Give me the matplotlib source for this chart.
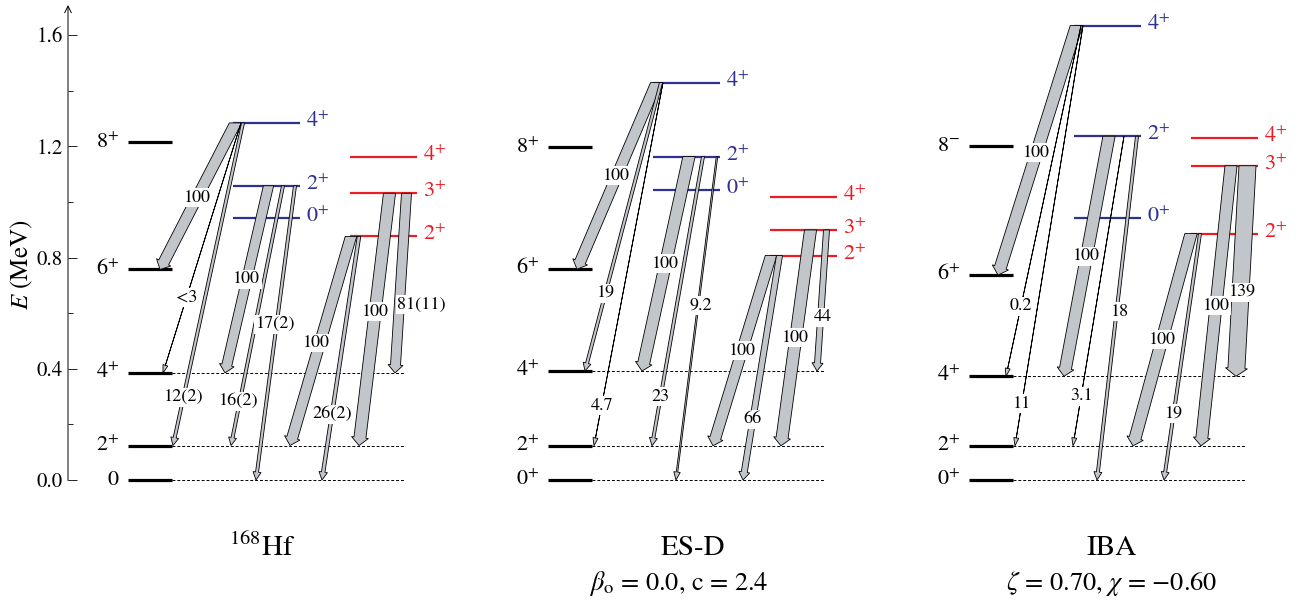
import numpy as np
import matplotlib
matplotlib.use("Agg")
import matplotlib.pyplot as plt
from matplotlib.patches import Polygon
from matplotlib.ticker import FixedLocator, FormatStrFormatter

plt.rcParams["font.family"] = ["STIXGeneral", "DejaVu Serif"]
plt.rcParams["mathtext.fontset"] = "stix"

# ---- level energies (MeV) ----
panel_names = [r"$^{168}$Hf", "ES-D", "IBA"]
panel_params = ["", r"$\beta_{\rm o}$ = 0.0, c = 2.4", r"$\zeta$ = 0.70, $\chi$ = $-$0.60"]

ground_spins = ["0", "2", "4", "6", "8"]
ground_hf = [0.0, 0.124, 0.385, 0.757, 1.214]
ground_esd = [0.0, 0.123, 0.392, 0.758, 1.196]
ground_iba = [0.0, 0.123, 0.373, 0.737, 1.201]
ground_labels_hf = ["0", r"$2^{+}$", r"$4^{+}$", r"$6^{+}$", r"$8^{+}$"]
ground_labels_esd = [r"$0^{+}$", r"$2^{+}$", r"$4^{+}$", r"$6^{+}$", r"$8^{+}$"]
ground_labels_iba = [r"$0^{+}$", r"$2^{+}$", r"$4^{+}$", r"$6^{+}$", r"$8^{-}$"]

# second 0+ band (0, 2, 4)
beta_spins = ["0", "2", "4"]
beta_hf = [0.941, 1.058, 1.284]
beta_esd = [1.043, 1.163, 1.429]
beta_iba = [0.941, 1.236, 1.634]

# gamma band (2, 3, 4)
gamma_spins = ["2", "3", "4"]
gamma_hf = [0.876, 1.031, 1.161]
gamma_esd = [0.807, 0.899, 1.018]
gamma_iba = [0.886, 1.130, 1.230]

# transitions: (band, initial spin, final ground-band spin)
transitions = [("b", "4", "6"), ("b", "4", "4"), ("b", "4", "2"),
               ("b", "2", "4"), ("b", "2", "2"), ("b", "2", "0"),
               ("g", "2", "2"), ("g", "2", "0"),
               ("g", "3", "2"), ("g", "3", "4")]
bE2_hf = ["100", "<3", "12(2)", "100", "16(2)", "17(2)", "100", "26(2)", "100", "81(11)"]
bE2_esd = ["100", "19", "4.7", "100", "23", "9.2", "100", "66", "100", "44"]
bE2_iba = ["100", "0.2", "11", "100", "3.1", "18", "100", "19", "100", "139"]

# ---- drawing layout (pixels along x) ----
K = 278.1          # px per MeV
offsets = [0, 420, 841]
# per arrow: top x, tip x, shaft width, label position along arrow, label dx
arrow_layout = [
    [(235.5, 160, 11, 0.51, 0), (241, 163, 0, 0.70, 0), (243, 173, 3, 0.85, 0),
     (268.5, 225, 10, 0.50, 0), (283, 231, 3, 0.83, -1), (295, 256, 3, 0.47, -1),
     (351, 290, 11, 0.51, -3), (359, 322, 3.5, 0.73, 0), (389.5, 359, 12, 0.47, 0),
     (406.5, 395, 10, 0.62, 22)],
    [(656.5, 577, 11, 0.50, 0), (661, 585, 3, 0.73, 0), (663, 594, 0, 0.89, 0),
     (689, 642, 12, 0.50, 0), (703, 652, 3, 0.83, 0), (717, 676, 1.5, 0.46, 3),
     (771, 713, 11, 0.50, 0), (779.5, 743, 6, 0.73, 0), (810.5, 781, 12, 0.50, 0),
     (826.5, 817, 6, 0.62, 2)],
    [(1076.5, 998, 12, 0.51, 0), (1081, 1006, 0, 0.80, 0), (1083, 1015, 0, 0.90, 0),
     (1109, 1064, 12, 0.50, 0), (1124, 1073, 0, 0.84, 0), (1137, 1097, 3, 0.51, 3),
     (1191, 1133, 12, 0.50, 0), (1200, 1164, 3, 0.73, 0), (1231, 1201, 12, 0.50, 0),
     (1247.5, 1236, 17, 0.60, 2)],
]

BLUE = "#2e3192"
RED = "#ed1c24"
GREY = "#c2c6cb"


def gamma_arrow(ax, x0, e0, x1, e1, w):
    # wide arrow whose top edge sits on the initial level
    y0, y1 = e0 * K, e1 * K
    d = np.array([x1 - x0, y1 - y0])
    u = d / np.hypot(*d)
    n = np.array([-u[1], u[0]])
    hl, hw = 8.0, w + 5.0
    p0 = np.array([x0, y0])
    tip = np.array([x1, y1])

    def on_level(side):
        p = p0 + side * n * w / 2
        return p + (y0 - p[1]) / u[1] * u

    base = tip - u * hl
    pts = np.array([on_level(-1), base - n * w / 2, base - n * hw / 2, tip,
                    base + n * hw / 2, base + n * w / 2, on_level(1)])
    pts[:, 1] /= K
    ax.add_patch(Polygon(pts, closed=True, fc=GREY, ec="black", lw=0.6, zorder=4))


fig = plt.figure(figsize=(12.96, 6.05), dpi=100)
ax = fig.add_axes([0, 0, 1, 1])
ax.set_xlim(0, 1296)
ax.set_ylim(-125 / K, 480 / K)

# energy axis
for s in ["top", "right", "bottom", "left"]:
    ax.spines[s].set_visible(False)
ax.spines["left"].set_position(("data", 68))
ax.xaxis.set_visible(False)
ax.yaxis.set_major_locator(FixedLocator([0.0, 0.4, 0.8, 1.2, 1.6]))
ax.yaxis.set_minor_locator(FixedLocator([0.2, 0.6, 1.0, 1.4]))
ax.yaxis.set_major_formatter(FormatStrFormatter("%.1f"))
ax.tick_params(axis="y", which="major", direction="in", length=6.5, width=0.6,
               labelsize=15, pad=4)
ax.tick_params(axis="y", which="minor", direction="in", length=3.5, width=0.6)
ax.annotate("", xy=(68, 475 / K), xytext=(68, -0.002),
            arrowprops=dict(arrowstyle="->", lw=0.7, color="black",
                            shrinkA=0, shrinkB=0, mutation_scale=12))
ax.text(22, 0.773, "$E$ (MeV)", rotation=90, ha="center", va="center", fontsize=18)

grounds = [ground_hf, ground_esd, ground_iba]
ground_labels = [ground_labels_hf, ground_labels_esd, ground_labels_iba]
betas = [beta_hf, beta_esd, beta_iba]
gammas = [gamma_hf, gamma_esd, gamma_iba]
bE2 = [bE2_hf, bE2_esd, bE2_iba]
title_x = [262, 693, 1112]
param_x = [262, 679, 1112]

for p in range(3):
    off = offsets[p]
    g = dict(zip(ground_spins, grounds[p]))
    b = dict(zip(beta_spins, betas[p]))
    gm = dict(zip(gamma_spins, gammas[p]))

    # ground band with dashed guides
    for e, lab in zip(grounds[p], ground_labels[p]):
        ax.plot([off + 128, off + 172], [e, e], color="black", lw=2.3,
                solid_capstyle="butt", zorder=2)
        ax.text(off + 119, e, lab, ha="right", va="center", fontsize=16)
    for s in ["0", "2", "4"]:
        ax.plot([off + 172, off + 405], [g[s], g[s]], color="black", lw=0.7,
                ls=(0, (3, 2)), zorder=1)

    for e, s in zip(betas[p], beta_spins):
        ax.plot([off + 233, off + 300], [e, e], color=BLUE, lw=1.6,
                solid_capstyle="butt", zorder=2)
        ax.text(off + 306, e + 0.004, rf"${s}^{{+}}$", ha="left", va="center",
                fontsize=16, color=BLUE)
    for e, s in zip(gammas[p], gamma_spins):
        ax.plot([off + 350, off + 417], [e, e], color=RED, lw=1.6,
                solid_capstyle="butt", zorder=2)
        ax.text(off + 423, e + 0.004, rf"${s}^{{+}}$", ha="left", va="center",
                fontsize=16, color=RED)

    for (band, ji, jf), lab, (xt, xb, w, t, dx) in zip(transitions, bE2[p], arrow_layout[p]):
        e0 = b[ji] if band == "b" else gm[ji]
        e1 = g[jf]
        gamma_arrow(ax, xt, e0, xb, e1, w)
        lx = xt + t * (xb - xt) + dx
        le = e0 + t * (e1 - e0)
        ax.text(lx, le, lab, ha="center", va="center", fontsize=13, zorder=6,
                bbox=dict(fc="white", ec="none", pad=1.0))

    ax.text(title_x[p], -68 / K, panel_names[p], ha="center", va="center", fontsize=21)
    if panel_params[p]:
        ax.text(param_x[p], -103 / K, panel_params[p], ha="center", va="center",
                fontsize=19)

fig.savefig("out.png", dpi=100)
